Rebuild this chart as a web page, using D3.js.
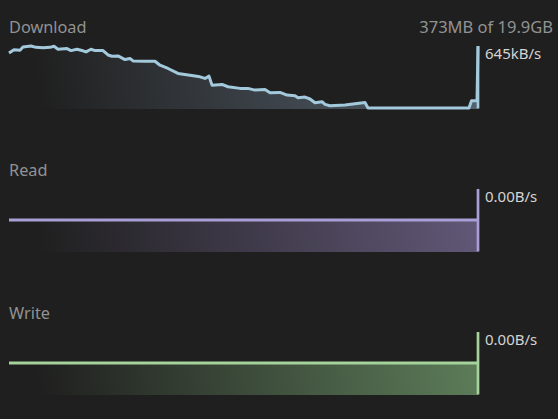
<!DOCTYPE html>
<html>
<head>
<meta charset="utf-8">
<script src="https://cdn.jsdelivr.net/npm/d3@7"></script>
<style>
  html, body { margin: 0; padding: 0; background: #1f1f1f; }
  svg { display: block; }
</style>
</head>
<body>
<svg id="chart" width="558" height="419"></svg>
<script>
// ---- data ----
const panelTitles = ["Download", "Read", "Write"];
const panelRates = ["645kB/s", "0.00B/s", "0.00B/s"];
const downloadProgress = "373MB of 19.9GB";

// download speed history (seconds, kB/s)
const downloadTime = [0, 5, 11, 14, 22, 27, 34, 41, 45, 49, 58, 62, 68, 74, 77, 82, 86, 94, 99, 103, 109, 116, 121, 124, 136, 146, 151, 159, 169, 181, 191, 196, 200, 203, 213, 219, 231, 239, 246, 256, 261, 271, 278, 286, 289, 296, 301, 306, 313, 316, 321, 336, 356, 359, 371, 400, 430, 460, 462.5, 468, 469];
const downloadKBps = [575, 610, 603, 637, 648, 634, 629, 634, 645, 614, 621, 600, 614, 598, 586, 614, 600, 600, 554, 541, 544, 506, 517, 492, 489, 489, 447, 413, 361, 343, 326, 309, 333, 239, 246, 222, 205, 205, 187, 194, 159, 163, 135, 128, 107, 114, 94, 55, 66, 38, 24, 31, 57, 0, 0, 0, 0, 0, 76, 76, 645];

// read / write history (seconds, B/s)
const readTime = [0, 469];
const readBps = [0, 0];
const writeTime = [0, 469];
const writeBps = [0, 0];

// ---- drawing ----
const svg = d3.select("#chart");
const left = 9, right = 478;
const panelHeight = 62;
const panelTops = [46, 189, 332];

const panels = [
  { time: downloadTime, values: downloadKBps, line: "#a3c9dc", fill: "#56626f" },
  { time: readTime, values: readBps, line: "#a99fd6", fill: "#625878" },
  { time: writeTime, values: writeBps, line: "#a6d29b", fill: "#5d7d59" }
];

const defs = svg.append("defs");

panels.forEach((p, i) => {
  const top = panelTops[i];
  const bottom = top + panelHeight;
  const x = d3.scaleLinear().domain(d3.extent(p.time)).range([left, right]);
  const y = d3.scaleLinear().domain([0, d3.max(p.values)]).range([bottom, top]);
  const data = p.time.map((t, k) => ({ t, v: p.values[k] }));

  const gid = "grad" + i;
  const g = defs.append("linearGradient")
    .attr("id", gid)
    .attr("gradientUnits", "userSpaceOnUse")
    .attr("x1", left + 30).attr("y1", bottom)
    .attr("x2", right).attr("y2", top);
  g.append("stop").attr("offset", 0).attr("stop-color", p.fill).attr("stop-opacity", 0);
  g.append("stop").attr("offset", 1).attr("stop-color", p.fill).attr("stop-opacity", 1);

  const area = d3.area()
    .x(d => x(d.t))
    .y0(bottom + 1)
    .y1(d => y(d.v));
  svg.append("path").datum(data)
    .attr("d", area)
    .attr("fill", `url(#${gid})`);

  const line = d3.line()
    .x(d => x(d.t))
    .y(d => y(d.v));
  svg.append("path").datum(data)
    .attr("d", line)
    .attr("fill", "none")
    .attr("stroke", p.line)
    .attr("stroke-width", 3)
    .attr("stroke-linejoin", "round");

  // current-position marker
  svg.append("line")
    .attr("x1", x(p.time[p.time.length - 1])).attr("x2", x(p.time[p.time.length - 1]))
    .attr("y1", top).attr("y2", bottom + 0.5)
    .attr("stroke", p.line)
    .attr("stroke-width", 2.7);

  svg.append("text")
    .attr("x", left).attr("y", top - 13)
    .attr("fill", "#929292")
    .attr("font-family", "'Noto Sans', sans-serif")
    .attr("font-size", 16.3)
    .text(panelTitles[i]);

  svg.append("text")
    .attr("x", right + 7).attr("y", top + 13)
    .attr("fill", "#d4d4d4")
    .attr("font-family", "'Noto Sans', sans-serif")
    .attr("font-size", 15)
    .text(panelRates[i]);
});

svg.append("text")
  .attr("x", 553).attr("y", 33)
  .attr("text-anchor", "end")
  .attr("fill", "#929292")
  .attr("font-family", "'Noto Sans', sans-serif")
  .attr("font-size", 16.5)
  .text(downloadProgress);
</script>
</body>
</html>
